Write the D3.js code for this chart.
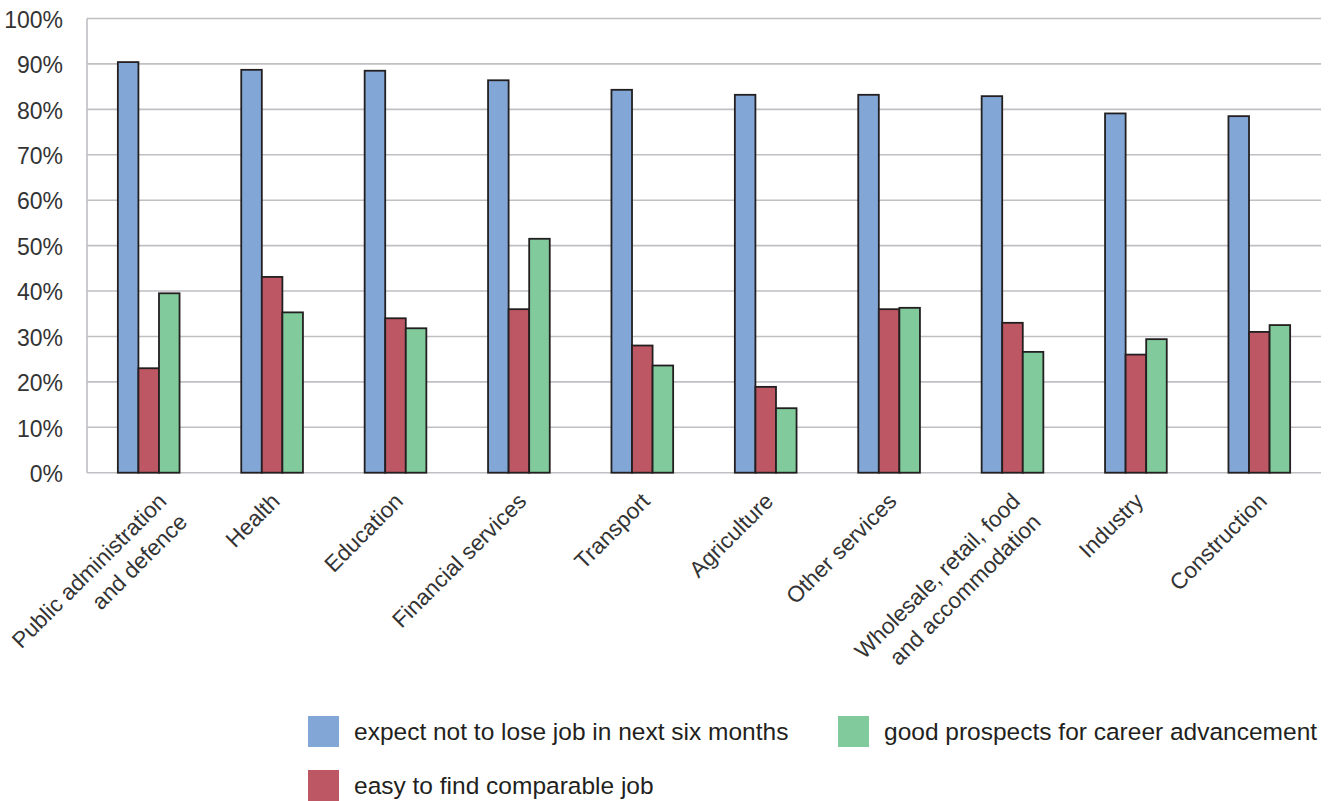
<!DOCTYPE html>
<html>
<head>
<meta charset="utf-8">
<script src="https://cdn.jsdelivr.net/npm/d3@7"></script>
<style>
  html, body { margin: 0; padding: 0; background: #ffffff; }
  svg { display: block; font-family: "Liberation Sans", Arial, Helvetica, sans-serif; }
</style>
</head>
<body>
<svg id="chart" width="1330" height="801"></svg>
<script>
// Sectors (multi-line labels are split into their lines)
const categories = [
  ["Public administration", "and defence"],
  ["Health"],
  ["Education"],
  ["Financial services"],
  ["Transport"],
  ["Agriculture"],
  ["Other services"],
  ["Wholesale, retail, food", "and accommodation"],
  ["Industry"],
  ["Construction"]
];

// Share of workers (%) per sector
const expectKeepJob   = [90.4, 88.7, 88.5, 86.4, 84.3, 83.2, 83.2, 82.9, 79.1, 78.5];
const easyFindJob     = [23.0, 43.1, 34.0, 36.0, 28.0, 18.9, 36.0, 33.0, 26.0, 31.0];
const goodProspects   = [39.5, 35.3, 31.8, 51.5, 23.6, 14.2, 36.3, 26.6, 29.4, 32.5];

const seriesNames = [
  "expect not to lose job in next six months",
  "easy to find comparable job",
  "good prospects for career advancement"
];
const seriesColors = ["#82a7d6", "#bd5763", "#80ca9b"];
const yTicks = [0, 10, 20, 30, 40, 50, 60, 70, 80, 90, 100];

const seriesValues = [expectKeepJob, easyFindJob, goodProspects];
const catKeys = categories.map(c => c.join(" "));

const svg = d3.select("#chart");
const W = 1330, H = 801;
const margin = { top: 18.5, right: 9, bottom: 328.3, left: 87 };

const x = d3.scaleBand()
  .domain(catKeys)
  .range([margin.left, W - margin.right])
  .paddingInner(0.5)
  .paddingOuter(0.25);

const xs = d3.scaleBand()
  .domain(d3.range(seriesNames.length))
  .range([0, x.bandwidth()])
  .padding(0);

const y = d3.scaleLinear()
  .domain([0, 100])
  .range([H - margin.bottom, margin.top]);

const gridColor = "#bfbfc4";
const textColor = "#333333";

// Horizontal gridlines
svg.append("g")
  .selectAll("line")
  .data(yTicks)
  .join("line")
  .attr("x1", margin.left)
  .attr("x2", W - margin.right)
  .attr("y1", d => y(d))
  .attr("y2", d => y(d))
  .attr("stroke", gridColor)
  .attr("stroke-width", 1.6);

// Vertical axis line
svg.append("line")
  .attr("x1", margin.left).attr("x2", margin.left)
  .attr("y1", y(100)).attr("y2", y(0))
  .attr("stroke", gridColor)
  .attr("stroke-width", 1.6);

// Y axis labels
const yAxis = d3.axisLeft(y)
  .tickValues(yTicks)
  .tickFormat(d => d + "%")
  .tickSize(0)
  .tickPadding(24);

const yAxisG = svg.append("g")
  .attr("transform", `translate(${margin.left},0)`)
  .call(yAxis);
yAxisG.select(".domain").remove();
yAxisG.selectAll("text")
  .attr("font-size", 23)
  .attr("fill", textColor)
  .attr("font-family", "Liberation Sans, Arial, sans-serif")
  .attr("dy", "0.38em");

// Bars
const groups = svg.append("g")
  .selectAll("g")
  .data(catKeys)
  .join("g")
  .attr("transform", d => `translate(${x(d)},0)`);

groups.selectAll("rect")
  .data((d, i) => seriesValues.map((vals, s) => ({ s, v: vals[i] })))
  .join("rect")
  .attr("x", d => xs(d.s))
  .attr("width", xs.bandwidth())
  .attr("y", d => y(d.v))
  .attr("height", d => y(0) - y(d.v))
  .attr("fill", d => seriesColors[d.s])
  .attr("stroke", "#231f20")
  .attr("stroke-width", 1.8);

// Rotated category labels
const labelDx = -3, labelDy = 18;
const labelPos = i => [x(catKeys[i]) + x.bandwidth() / 2 + labelDx, y(0) + labelDy];

const labelG = svg.append("g")
  .selectAll("g")
  .data(categories)
  .join("g")
  .attr("transform", (d, i) => { const p = labelPos(i); return `translate(${p[0]},${p[1]}) rotate(-45)`; });

labelG.append("text")
  .attr("text-anchor", "end")
  .attr("font-size", 22.5)
  .attr("fill", textColor)
  .selectAll("tspan")
  .data(d => d)
  .join("tspan")
  .attr("x", 0)
  .attr("dy", (d, i) => i === 0 ? "0.75em" : "1.3em")
  .text(d => d);

// Keep labels inside the left edge of the canvas
labelG.each(function (d, i) {
  const r = this.getBoundingClientRect();
  const minLeft = 7;
  if (r.left < minLeft) {
    const p = labelPos(i);
    d3.select(this).attr("transform",
      `translate(${p[0] + (minLeft - r.left)},${p[1]}) rotate(-45)`);
  }
});

// Legend: two columns, filled column by column
const legendCols = [308, 838];
const legendTop = 716;
const legendRowGap = 54;
const sw = 31;

const legend = svg.append("g")
  .selectAll("g")
  .data(seriesNames)
  .join("g")
  .attr("transform", (d, i) =>
    `translate(${legendCols[Math.floor(i / 2)]},${legendTop + (i % 2) * legendRowGap})`);

legend.append("rect")
  .attr("width", sw)
  .attr("height", sw)
  .attr("fill", (d, i) => seriesColors[i]);

legend.append("text")
  .attr("x", sw + 15)
  .attr("y", sw / 2)
  .attr("dy", "0.36em")
  .attr("font-size", 24.5)
  .attr("fill", "#231f20")
  .text(d => d);
</script>
</body>
</html>
